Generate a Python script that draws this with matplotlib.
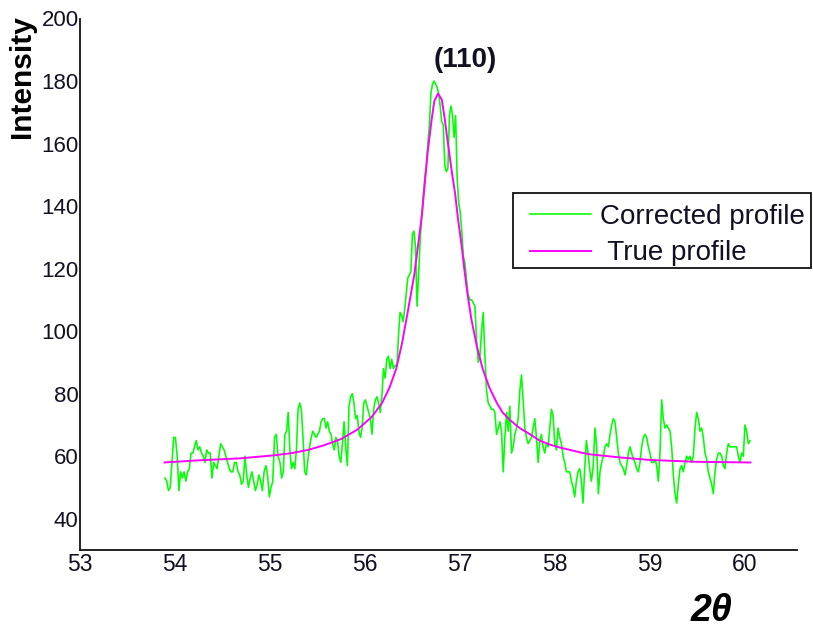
import numpy as np
import matplotlib
matplotlib.use("Agg")
import matplotlib.pyplot as plt
from matplotlib.patches import Rectangle

# ---- data -------------------------------------------------------------
# measured (background-corrected) intensity, recorded in five scan blocks;
# each block is equally spaced in 2-theta between its start and stop angle
block_ranges = [
    (53.895, 55.085),
    (55.106, 56.317),
    (56.338, 57.085),
    (57.106, 58.402),
    (58.423, 60.055),
]
block_1 = [
    53, 52, 49, 50, 58, 66, 66, 60, 49, 55,
    53, 55, 52, 55, 56, 61, 61, 63, 65, 62,
    63, 61, 60, 58, 62, 61, 61, 53, 58, 57,
    56, 60, 64, 63, 62, 60, 58, 56, 55, 55,
    58, 58, 55, 54, 51, 52, 60, 54, 50, 53,
    55, 52, 49, 51, 54, 52, 49, 55, 57, 54,
    47, 50, 52, 66, 67, 60,
]
block_2 = [
    58, 53, 55, 67, 68, 74, 62, 56, 58, 56,
    62, 75, 77, 75, 66, 55, 54, 59, 63, 66,
    68, 67, 66, 67, 68, 71, 72, 72, 69, 71,
    68, 67, 64, 62, 66, 65, 60, 58, 64, 71,
    63, 57, 76, 79, 80, 77, 72, 73, 68, 66,
    69, 77, 78, 76, 74, 72, 67, 75, 78, 79,
    77, 74, 79, 88, 85, 91, 92, 88, 91, 88,
    89,
]
block_3 = [
    89, 99, 106, 105, 103, 107, 112, 117, 118, 119,
    131, 132, 127, 108, 118, 129, 137, 143, 149, 153,
    160, 166, 176, 179, 180, 179, 178, 176, 172, 167,
    166, 153, 151, 152, 169, 172, 169, 162, 169, 149,
    141, 138, 132, 124, 122, 117, 112,
]
block_4 = [
    110, 110, 109, 108, 97, 90, 92, 100, 106, 92,
    81, 77, 76, 75, 75, 74, 67, 69, 71, 68,
    55, 66, 74, 68, 76, 61, 63, 67, 69, 72,
    81, 86, 78, 69, 66, 64, 65, 66, 69, 72,
    66, 58, 65, 67, 63, 61, 64, 63, 69, 75,
    73, 64, 62, 69, 66, 64, 60, 58, 55, 55,
    55, 52, 50, 47, 52, 55, 56, 52, 45, 56,
    65, 61, 56, 52, 56,
]
block_5 = [
    69, 63, 48, 55, 58, 60, 63, 64, 63, 67,
    70, 72, 71, 66, 61, 58, 57, 56, 54, 57,
    61, 63, 61, 59, 58, 56, 55, 58, 63, 66,
    67, 66, 63, 61, 58, 58, 59, 57, 52, 61,
    78, 72, 69, 70, 69, 68, 63, 54, 48, 45,
    51, 56, 57, 55, 58, 60, 59, 60, 58, 60,
    69, 74, 72, 68, 69, 66, 61, 59, 55, 53,
    51, 48, 55, 59, 61, 61, 60, 57, 56, 61,
    64, 63, 63, 63, 63, 63, 60, 58, 61, 60,
    70, 68, 64, 65,
]
corrected_blocks = [block_1, block_2, block_3, block_4, block_5]

# true (fitted) line profile of the (110) reflection
true_two_theta = [
    53.89, 54.26, 54.68, 55.05, 55.23, 55.40, 55.57, 55.75, 55.92, 56.07,
    56.18, 56.26, 56.33, 56.39, 56.45, 56.52, 56.60, 56.63, 56.66, 56.70,
    56.73, 56.77, 56.81, 56.84, 56.87, 56.91, 56.95, 56.98, 57.02, 57.05,
    57.08, 57.12, 57.18, 57.24, 57.31, 57.39, 57.45, 57.53, 57.63, 57.74,
    57.84, 57.95, 58.05, 58.16, 58.30, 58.37, 58.69, 59.00, 59.50, 60.06,
]
true_intensity = [
    58.0, 58.7, 59.3, 60.3, 61.0, 62.0, 63.5, 65.5, 68.5, 72.5,
    77.0, 82.0, 88.0, 96.0, 106.0, 118.0, 137.0, 147.0, 157.0, 167.0,
    173.5, 176.0, 174.0, 168.0, 161.0, 152.0, 144.0, 136.0, 127.0, 119.0,
    112.0, 104.0, 95.0, 88.0, 82.0, 77.0, 74.0, 71.5, 69.0, 67.0,
    65.0, 63.7, 62.8, 62.0, 61.0, 60.6, 59.6, 58.8, 58.2, 58.0,
]

x_ticks = [53, 54, 55, 56, 57, 58, 59, 60]
y_ticks = [40, 60, 80, 100, 120, 140, 160, 180, 200]
series_labels = ["Corrected profile", " True profile"]
peak_label = "(110)"

# ---- figure -----------------------------------------------------------
plt.rcParams["font.family"] = ["Liberation Sans", "DejaVu Sans"]
text_color = "#111122"

W, H = 813, 630
fig = plt.figure(figsize=(W / 100, H / 100), dpi=100)
ax = fig.add_axes([80 / W, 1 - 550 / H, (797 - 80) / W, (550 - 18.5) / H])

corrected_x = np.concatenate([np.linspace(a, b, len(v))
                              for (a, b), v in zip(block_ranges, corrected_blocks)])
corrected_y = np.concatenate(corrected_blocks)

ax.plot(corrected_x, corrected_y, color="#00ff00", lw=1.15,
        label=series_labels[0], zorder=2)
ax.plot(true_two_theta, true_intensity, color="#ff00ff", lw=1.4,
        label=series_labels[1], zorder=3)

ax.set_xlim(53, 60.55)
ax.set_ylim(30, 200)
ax.set_xticks(x_ticks)
ax.set_yticks(y_ticks)

for side in ("top", "right"):
    ax.spines[side].set_visible(False)
for side in ("left", "bottom"):
    ax.spines[side].set_color("#111111")
    ax.spines[side].set_linewidth(1.3)

ax.tick_params(axis="both", length=0, colors=text_color)
ax.tick_params(axis="y", pad=1, labelsize=16)
ax.tick_params(axis="x", pad=2, labelsize=16.5)

fig.text(22 / W, 1 - 77 / H, "Intensity", rotation=90, ha="center", va="center",
         fontsize=21.5, fontweight="bold", color="black")
fig.text(711 / W, 1 - 611 / H, "2θ", ha="center", va="center",
         fontsize=27, fontweight="bold", fontstyle="italic", color="black")
ax.text(57.054, 186.7, peak_label, ha="center", va="center",
        fontsize=20, fontweight="bold", color=text_color)

# legend: frameless entries inside a hand-placed box
ax.add_patch(Rectangle((513 / W, 1 - 268 / H), (811 - 513) / W, 75 / H,
                       transform=fig.transFigure, clip_on=False,
                       facecolor="white", edgecolor="#111111", lw=1.3,
                       zorder=5))
leg = ax.legend(loc="upper left", bbox_to_anchor=(530 / W, 1 - 204 / H),
                bbox_transform=fig.transFigure, borderaxespad=0, borderpad=0,
                fontsize=20, handlelength=2.2, handletextpad=0.32,
                labelspacing=0.37, frameon=False)
leg.set_zorder(6)
for t in leg.get_texts():
    t.set_color(text_color)

fig.savefig("out.png", dpi=100)
